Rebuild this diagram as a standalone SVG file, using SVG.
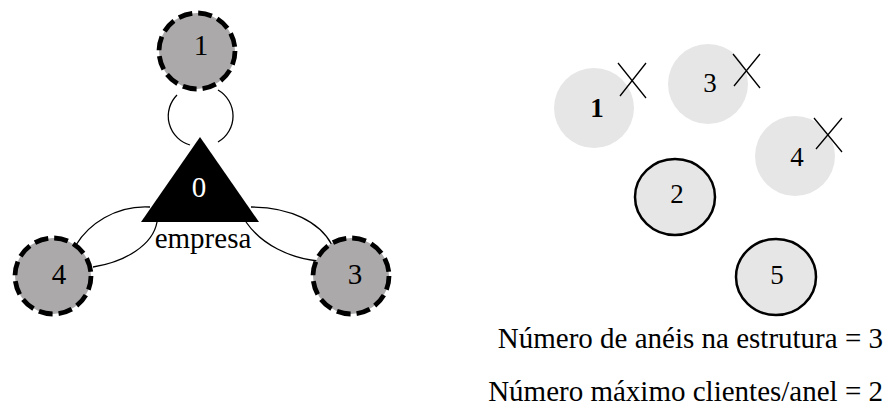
<svg xmlns="http://www.w3.org/2000/svg" width="885" height="418" viewBox="0 0 885 418">
<style>
text{font-family:"Liberation Serif","Times New Roman",serif;fill:#000}
.ring{fill:#aba9a9;stroke:#000;stroke-width:4.8;stroke-dasharray:14 6}
.lbl{font-size:29px;text-anchor:middle}
.rl{font-size:27px;text-anchor:middle}
.cli{fill:#e6e6e6}
.cls{fill:#e6e6e6;stroke:#000;stroke-width:2.5}
.x{stroke:#000;stroke-width:1.3;fill:none}
.con{stroke:#000;stroke-width:1.3;fill:none}
.info{font-size:29px;text-anchor:end}
</style>
<g id="connectors">
<path class="con" d="M177,95 A30,30 0 0 0 190,145"/>
<path class="con" d="M218,90 A30,30 0 0 1 218,142"/>
<path class="con" d="M150,207 C115,205 88,225 76,245"/>
<path class="con" d="M157,222 C153,245 125,262 93,267"/>
<path class="con" d="M251,207 C290,207 320,222 332,245"/>
<path class="con" d="M246,222 C262,245 290,258 318,261"/>
</g>
<g id="node1">
<circle class="ring" cx="197" cy="51" r="38"/>
<text class="lbl" x="201" y="55">1</text>
</g>
<g id="node0">
<polygon points="200,137 141,222 259,222" fill="#000"/>
<text class="lbl" x="199" y="197" style="fill:#fff">0</text>
<text class="lbl" x="203" y="248">empresa</text>
</g>
<g id="node4">
<circle class="ring" cx="53" cy="276" r="38"/>
<text class="lbl" x="59" y="284">4</text>
</g>
<g id="node3">
<circle class="ring" cx="351" cy="276" r="38"/>
<text class="lbl" x="355" y="284">3</text>
</g>
<g id="c1">
<circle class="cli" cx="594" cy="108" r="40"/>
<text class="rl" x="597" y="117" font-weight="bold">1</text>
<path class="x" d="M618,63 L646,98 M620,96 L646,63"/>
</g>
<g id="c3">
<circle class="cli" cx="708" cy="84" r="40"/>
<text class="rl" x="710" y="92">3</text>
<path class="x" d="M733,54 L760,88 M734,86 L760,54"/>
</g>
<g id="c4">
<circle class="cli" cx="795" cy="156" r="40"/>
<text class="rl" x="797" y="166">4</text>
<path class="x" d="M814,118 L842,152 M816,149 L842,118"/>
</g>
<g id="c2">
<ellipse class="cls" cx="675" cy="197" rx="40" ry="38"/>
<text class="rl" x="677" y="203">2</text>
</g>
<g id="c5">
<ellipse class="cls" cx="776" cy="277" rx="40" ry="38"/>
<text class="rl" x="777" y="284">5</text>
</g>
<text class="info" x="883" y="348">Número de anéis na estrutura = 3</text>
<text class="info" x="883" y="401">Número máximo clientes/anel = 2</text>
</svg>
